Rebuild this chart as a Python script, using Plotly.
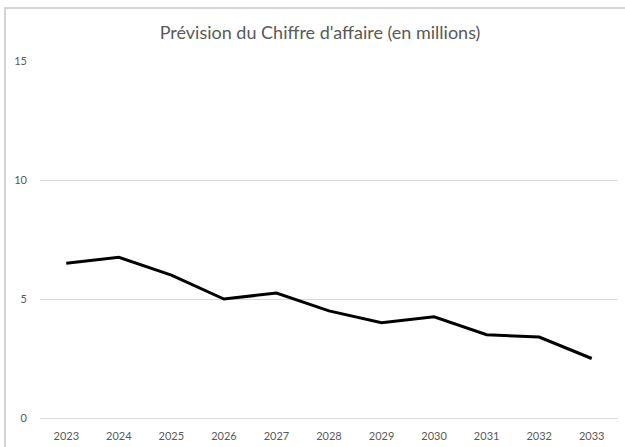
import plotly.graph_objects as go

years = ["2023", "2024", "2025", "2026", "2027", "2028", "2029", "2030", "2031", "2032", "2033"]
revenue = [6.5, 6.75, 6.0, 5.0, 5.25, 4.5, 4.0, 4.25, 3.5, 3.4, 2.5]
y_ticks = [0, 5, 10, 15]

W, H = 625, 447
# plot area in pixels (from top-left)
px0, px1, py0, py1 = 40, 618, 61, 418
# chart frame (left/top edges) in pixels
fx, fy = 6, 9

fig = go.Figure()
fig.add_trace(go.Scatter(
    x=years, y=revenue, mode="lines",
    line=dict(color="black", width=3),
    hoverinfo="x+y",
))
# invisible helper trace for the chart frame axes
fig.add_trace(go.Scatter(x=[0, 1], y=[0, 1], xaxis="x2", yaxis="y2",
                         mode="lines", line=dict(width=0), opacity=0,
                         hoverinfo="skip", showlegend=False))

font_fam = "Lato, 'Open Sans', sans-serif"
fig.update_layout(
    width=W, height=H,
    margin=dict(l=0, r=0, t=0, b=0, pad=0, autoexpand=False),
    paper_bgcolor="white", plot_bgcolor="rgba(0,0,0,0)",
    showlegend=False,
    title=dict(text="Prévision du Chiffre d'affaire (en millions)",
               x=320 / W, xanchor="center", y=1 - 33 / H, yanchor="middle",
               font=dict(family=font_fam, size=18, color="#595959")),
    font=dict(family=font_fam, size=11, color="#595959"),
    xaxis=dict(domain=[px0 / W, px1 / W], anchor="y",
               type="category", range=[-0.5, 10.5], showgrid=False, showline=False,
               zeroline=False, ticks="", ticklabelstandoff=10,
               tickfont=dict(size=11, color="#595959")),
    yaxis=dict(domain=[1 - py1 / H, 1 - py0 / H], anchor="x",
               range=[0, 15], tickvals=y_ticks, showgrid=True, gridcolor="#d9d9d9",
               gridwidth=1, zeroline=True, zerolinecolor="#d9d9d9", zerolinewidth=1,
               showline=False, ticks="", ticklabelstandoff=12,
               tickfont=dict(size=11, color="#595959")),
    xaxis2=dict(domain=[fx / W, 1], anchor="y2", side="top", range=[0, 1],
                showline=True, linecolor="#d4d4d4", linewidth=2,
                showgrid=False, zeroline=False, showticklabels=False, ticks="",
                fixedrange=True),
    yaxis2=dict(domain=[0, 1 - fy / H], anchor="x2", side="left", range=[0, 1],
                showline=True, linecolor="#d4d4d4", linewidth=2,
                showgrid=False, zeroline=False, showticklabels=False, ticks="",
                fixedrange=True),
)

fig.write_html(
    "out.html",
    config={"displayModeBar": False},
    post_script="document.body.style.margin='0';document.body.style.overflow='hidden';",
)
